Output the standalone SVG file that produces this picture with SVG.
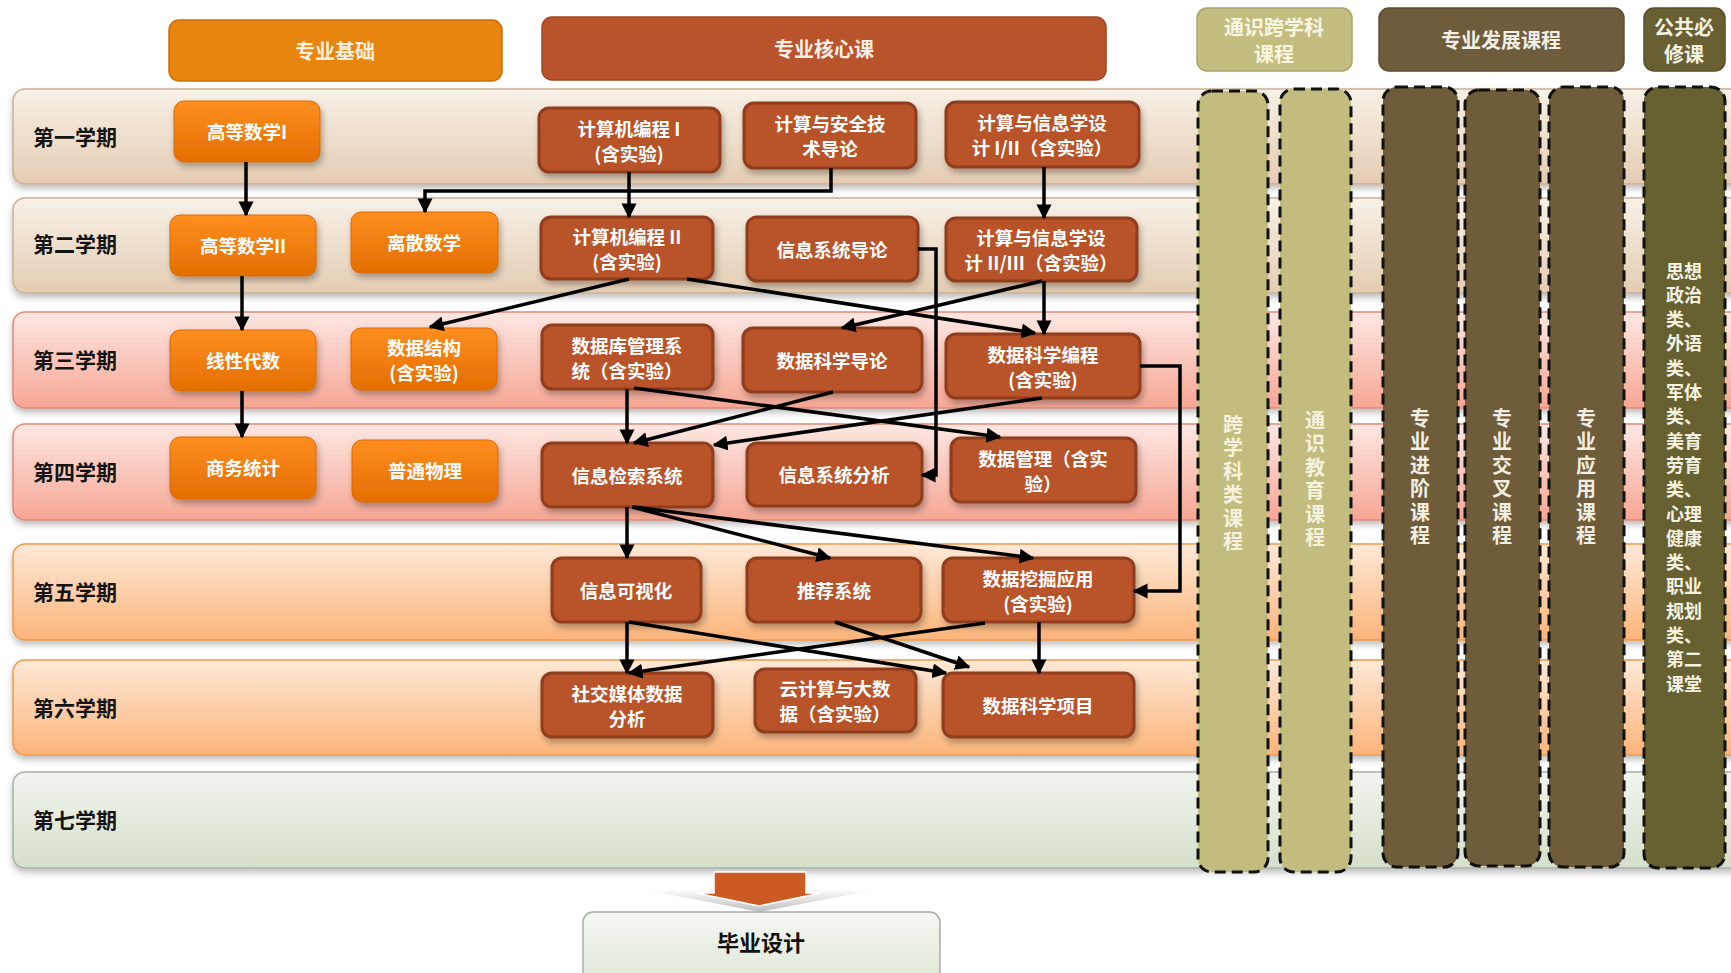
<svg xmlns="http://www.w3.org/2000/svg" width="1731" height="973" viewBox="0 0 1731 973">
<defs>
<linearGradient id="gBeige" x1="0" y1="0" x2="0" y2="1"><stop offset="0" stop-color="#f8f1e8"/><stop offset="1" stop-color="#e4ccb2"/></linearGradient>
<linearGradient id="gPink" x1="0" y1="0" x2="0" y2="1"><stop offset="0" stop-color="#fde7e3"/><stop offset="1" stop-color="#f6a694"/></linearGradient>
<linearGradient id="gPeach" x1="0" y1="0" x2="0" y2="1"><stop offset="0" stop-color="#fee9d8"/><stop offset="1" stop-color="#fbb47a"/></linearGradient>
<linearGradient id="gGreen" x1="0" y1="0" x2="0" y2="1"><stop offset="0" stop-color="#f2f5ef"/><stop offset="1" stop-color="#d5dfcb"/></linearGradient>
<linearGradient id="gOrange" x1="0" y1="0" x2="0" y2="1"><stop offset="0" stop-color="#ff8e20"/><stop offset="1" stop-color="#e36e00"/></linearGradient>
<linearGradient id="gFinal" x1="0" y1="0" x2="0" y2="1"><stop offset="0" stop-color="#f5f7f2"/><stop offset="1" stop-color="#dce5d4"/></linearGradient>
<linearGradient id="gWing" x1="0" y1="0" x2="0" y2="1"><stop offset="0" stop-color="#ffffff"/><stop offset="1" stop-color="#bdbdbd"/></linearGradient>
<filter id="sh" x="-5%" y="-10%" width="115%" height="140%"><feDropShadow dx="2" dy="4" stdDeviation="3" flood-color="#000" flood-opacity="0.3"/></filter>
<filter id="shb" x="-2%" y="-10%" width="104%" height="130%"><feDropShadow dx="0" dy="4" stdDeviation="3" flood-color="#000" flood-opacity="0.25"/></filter>
<marker id="ah" viewBox="0 0 10 10" refX="9" refY="5" markerWidth="4.3" markerHeight="4.3" orient="auto" markerUnits="strokeWidth"><path d="M0,0 L10,5 L0,10 z" fill="#000"/></marker>
</defs>
<style>
text{font-family:"Noto Sans CJK SC","Noto Sans",sans-serif;font-weight:700;}
.bl{font-size:21px;fill:#141414;dominant-baseline:central;}
.nt{font-size:18.5px;fill:#ffffff;text-anchor:middle;dominant-baseline:central;}
.ht{font-size:20px;text-anchor:middle;dominant-baseline:central;}
.vv{font-size:20px;text-anchor:middle;writing-mode:vertical-rl;letter-spacing:3.5px;}
.vt{font-size:18px;text-anchor:middle;dominant-baseline:central;}
.found rect{fill:url(#gOrange);stroke:#d86a05;stroke-width:1;filter:url(#sh);}
.core rect{fill:#b8522a;stroke:#8f3c1b;stroke-width:3;filter:url(#sh);}
.band rect{filter:url(#shb);}
.col rect{stroke:#111;stroke-width:3;stroke-dasharray:11 6;}
.conn path{fill:none;stroke:#000;stroke-width:3.5;marker-end:url(#ah);}
</style>

<!-- semester bands -->
<g id="band1" class="band"><rect x="13" y="89" width="1740" height="95" rx="12" fill="url(#gBeige)" stroke="#c9b095" stroke-width="1.5"/><text class="bl" x="33" y="136">第一学期</text></g>
<g id="band2" class="band"><rect x="13" y="198" width="1740" height="95" rx="12" fill="url(#gBeige)" stroke="#c9b095" stroke-width="1.5"/><text class="bl" x="33" y="243">第二学期</text></g>
<g id="band3" class="band"><rect x="13" y="312" width="1740" height="96" rx="12" fill="url(#gPink)" stroke="#dd8c78" stroke-width="1.5"/><text class="bl" x="33" y="359">第三学期</text></g>
<g id="band4" class="band"><rect x="13" y="424" width="1740" height="96" rx="12" fill="url(#gPink)" stroke="#dd8c78" stroke-width="1.5"/><text class="bl" x="33" y="471">第四学期</text></g>
<g id="band5" class="band"><rect x="13" y="544" width="1740" height="96" rx="12" fill="url(#gPeach)" stroke="#ec9a4e" stroke-width="1.5"/><text class="bl" x="33" y="591">第五学期</text></g>
<g id="band6" class="band"><rect x="13" y="660" width="1740" height="95" rx="12" fill="url(#gPeach)" stroke="#ec9a4e" stroke-width="1.5"/><text class="bl" x="33" y="707">第六学期</text></g>
<g id="band7" class="band"><rect x="13" y="772" width="1740" height="96" rx="12" fill="url(#gGreen)" stroke="#a9b0a6" stroke-width="1.5"/><text class="bl" x="33" y="819">第七学期</text></g>

<!-- headers -->
<g id="hdr-found"><rect x="169" y="20" width="333" height="61" rx="10" fill="#e8850f" stroke="#c96f0a" stroke-width="1.5"/><text class="ht" x="335" y="50" fill="#fdeede">专业基础</text></g>
<g id="hdr-core"><rect x="542" y="17" width="564" height="63" rx="10" fill="#b9532b" stroke="#a14620" stroke-width="1.5"/><text class="ht" x="824" y="48" fill="#fdf0e8">专业核心课</text></g>
<g id="hdr-general"><rect x="1197" y="8" width="155" height="63" rx="10" fill="#c4bd80" stroke="#a9a36c" stroke-width="1.5"/><text class="ht" fill="#f8f5e2"><tspan x="1274" y="26">通识跨学科</tspan><tspan x="1274" y="53">课程</tspan></text></g>
<g id="hdr-dev"><rect x="1379" y="8" width="245" height="63" rx="10" fill="#6f5c3c" stroke="#5d4d31" stroke-width="1.5"/><text class="ht" x="1501" y="39" fill="#f3efe4">专业发展课程</text></g>
<g id="hdr-public"><rect x="1644" y="8" width="81" height="63" rx="10" fill="#686032" stroke="#575028" stroke-width="1.5"/><text class="ht" fill="#f5f2e2"><tspan x="1684" y="26">公共必</tspan><tspan x="1684" y="53">修课</tspan></text></g>

<!-- columns -->
<g id="col-cross" class="col"><rect x="1198" y="91" width="70" height="781" rx="14" fill="#c3bc7f"/><text class="vv" x="1233" y="484.5" fill="#f6f2de">跨学科类课程</text></g>
<g id="col-gen" class="col"><rect x="1280" y="89" width="71" height="783" rx="14" fill="#c3bc7f"/><text class="vv" x="1315" y="480.5" fill="#f6f2de">通识教育课程</text></g>
<g id="col-adv" class="col"><rect x="1383" y="87" width="75" height="780" rx="14" fill="#6f5c3b"/><text class="vv" x="1420" y="478.5" fill="#f2eee2">专业进阶课程</text></g>
<g id="col-inter" class="col"><rect x="1465" y="90" width="75" height="776" rx="14" fill="#6f5c3b"/><text class="vv" x="1502" y="478.5" fill="#f2eee2">专业交叉课程</text></g>
<g id="col-app" class="col"><rect x="1549" y="87" width="75" height="780" rx="14" fill="#6f5c3b"/><text class="vv" x="1586" y="478.5" fill="#f2eee2">专业应用课程</text></g>
<g id="col-public" class="col"><rect x="1644" y="87" width="81" height="781" rx="14" fill="#676031"/><text class="vt" fill="#f5f2e2"><tspan x="1684" y="269.5">思想</tspan><tspan x="1684" y="293.8">政治</tspan><tspan x="1684" y="318.1">类、</tspan><tspan x="1684" y="342.4">外语</tspan><tspan x="1684" y="366.7">类、</tspan><tspan x="1684" y="391">军体</tspan><tspan x="1684" y="415.3">类、</tspan><tspan x="1684" y="439.6">美育</tspan><tspan x="1684" y="463.9">劳育</tspan><tspan x="1684" y="488.2">类、</tspan><tspan x="1684" y="512.5">心理</tspan><tspan x="1684" y="536.8">健康</tspan><tspan x="1684" y="561.1">类、</tspan><tspan x="1684" y="585.4">职业</tspan><tspan x="1684" y="609.7">规划</tspan><tspan x="1684" y="634">类、</tspan><tspan x="1684" y="658.3">第二</tspan><tspan x="1684" y="682.6">课堂</tspan></text></g>

<!-- foundation nodes -->
<g id="f1" class="found"><rect x="174" y="101" width="146" height="61" rx="10"/><text class="nt" x="247" y="131">高等数学I</text></g>
<g id="f2" class="found"><rect x="170" y="215" width="146" height="61" rx="10"/><text class="nt" x="243" y="245">高等数学II</text></g>
<g id="f3" class="found"><rect x="351" y="212" width="147" height="61" rx="10"/><text class="nt" x="424" y="242">离散数学</text></g>
<g id="f4" class="found"><rect x="170" y="330" width="146" height="61" rx="10"/><text class="nt" x="243" y="360">线性代数</text></g>
<g id="f5" class="found"><rect x="351" y="328" width="146" height="62" rx="10"/><text class="nt"><tspan x="424" y="346.5">数据结构</tspan><tspan x="424" y="371.5">(含实验)</tspan></text></g>
<g id="f6" class="found"><rect x="170" y="437" width="146" height="62" rx="10"/><text class="nt" x="243" y="467">商务统计</text></g>
<g id="f7" class="found"><rect x="352" y="440" width="146" height="62" rx="10"/><text class="nt" x="425" y="470">普通物理</text></g>

<!-- core nodes -->
<g id="c1" class="core"><rect x="539" y="108" width="181" height="64" rx="10"/><text class="nt"><tspan x="629" y="127.5">计算机编程 I</tspan><tspan x="629" y="152.5">(含实验)</tspan></text></g>
<g id="c2" class="core"><rect x="744" y="103" width="172" height="65" rx="10"/><text class="nt"><tspan x="830" y="123">计算与安全技</tspan><tspan x="830" y="148">术导论</tspan></text></g>
<g id="c3" class="core"><rect x="946" y="102" width="193" height="65" rx="10"/><text class="nt"><tspan x="1042" y="122">计算与信息学设</tspan><tspan x="1042" y="147">计 I/II（含实验）</tspan></text></g>
<g id="c4" class="core"><rect x="541" y="217" width="172" height="62" rx="10"/><text class="nt"><tspan x="627" y="235.5">计算机编程 II</tspan><tspan x="627" y="260.5">(含实验)</tspan></text></g>
<g id="c5" class="core"><rect x="747" y="217" width="171" height="64" rx="10"/><text class="nt" x="832" y="249">信息系统导论</text></g>
<g id="c6" class="core"><rect x="946" y="218" width="191" height="63" rx="10"/><text class="nt"><tspan x="1041" y="237">计算与信息学设</tspan><tspan x="1041" y="262">计 II/III（含实验）</tspan></text></g>
<g id="c7" class="core"><rect x="542" y="325" width="171" height="64" rx="10"/><text class="nt"><tspan x="627" y="344.5">数据库管理系</tspan><tspan x="627" y="369.5">统（含实验）</tspan></text></g>
<g id="c8" class="core"><rect x="743" y="328" width="179" height="64" rx="10"/><text class="nt" x="832" y="360">数据科学导论</text></g>
<g id="c9" class="core"><rect x="946" y="334" width="194" height="64" rx="10"/><text class="nt"><tspan x="1043" y="353.5">数据科学编程</tspan><tspan x="1043" y="378.5">(含实验)</tspan></text></g>
<g id="c10" class="core"><rect x="542" y="443" width="171" height="64" rx="10"/><text class="nt" x="627" y="475">信息检索系统</text></g>
<g id="c11" class="core"><rect x="747" y="443" width="175" height="63" rx="10"/><text class="nt" x="834" y="474">信息系统分析</text></g>
<g id="c12" class="core"><rect x="951" y="438" width="185" height="64" rx="10"/><text class="nt"><tspan x="1043" y="457.5">数据管理（含实</tspan><tspan x="1043" y="482.5">验）</tspan></text></g>
<g id="c13" class="core"><rect x="552" y="558" width="149" height="64" rx="10"/><text class="nt" x="626" y="590">信息可视化</text></g>
<g id="c14" class="core"><rect x="747" y="558" width="174" height="64" rx="10"/><text class="nt" x="834" y="590">推荐系统</text></g>
<g id="c15" class="core"><rect x="943" y="558" width="191" height="64" rx="10"/><text class="nt"><tspan x="1038" y="577.5">数据挖掘应用</tspan><tspan x="1038" y="602.5">(含实验)</tspan></text></g>
<g id="c16" class="core"><rect x="542" y="673" width="171" height="64" rx="10"/><text class="nt"><tspan x="627" y="692.5">社交媒体数据</tspan><tspan x="627" y="717.5">分析</tspan></text></g>
<g id="c17" class="core"><rect x="755" y="669" width="161" height="63" rx="10"/><text class="nt"><tspan x="835" y="688">云计算与大数</tspan><tspan x="835" y="713">据（含实验）</tspan></text></g>
<g id="c18" class="core"><rect x="943" y="673" width="191" height="64" rx="10"/><text class="nt" x="1038" y="705">数据科学项目</text></g>

<!-- connectors -->
<g id="connectors" class="conn">
<path d="M246,162 L246,215"/>
<path d="M242,276 L242,330"/>
<path d="M242,391 L242,437"/>
<path d="M629,172 L629,217"/>
<path d="M831,168 L831,191 L425,191 L425,212"/>
<path d="M1044,167 L1044,218"/>
<path d="M629,279 L430,327"/>
<path d="M687,279 L1035,333"/>
<path d="M918,249 L936,249 L936,475 L922,475"/>
<path d="M1042,281 L842,328"/>
<path d="M1044,281 L1044,334"/>
<path d="M627,389 L627,443"/>
<path d="M634,388 L1000,437"/>
<path d="M833,392 L634,443"/>
<path d="M1042,398 L714,445"/>
<path d="M1140,366 L1180,366 L1180,591 L1134,591"/>
<path d="M627,507 L627,558"/>
<path d="M632,507 L830,558"/>
<path d="M634,507 L1033,558"/>
<path d="M627,622 L627,673"/>
<path d="M629,622 L946,673"/>
<path d="M835,622 L969,667"/>
<path d="M985,623 L629,673"/>
<path d="M1039,622 L1039,673"/>
</g>

<!-- arrow to graduation -->
<g id="final-arrow">
<polygon points="641,889 879,889 760,912" fill="url(#gWing)"/>
<polygon points="714,872 806,872 806,893 821,893 759,906 696,893 714,893" fill="#cc5a22" stroke="#ffffff" stroke-width="1.5"/>
</g>
<g id="grad"><rect x="583" y="912" width="357" height="80" rx="10" fill="url(#gFinal)" stroke="#a6ada3" stroke-width="1.5"/><text x="761" y="941" font-size="22" fill="#111" text-anchor="middle" dominant-baseline="central">毕业设计</text></g>
</svg>
